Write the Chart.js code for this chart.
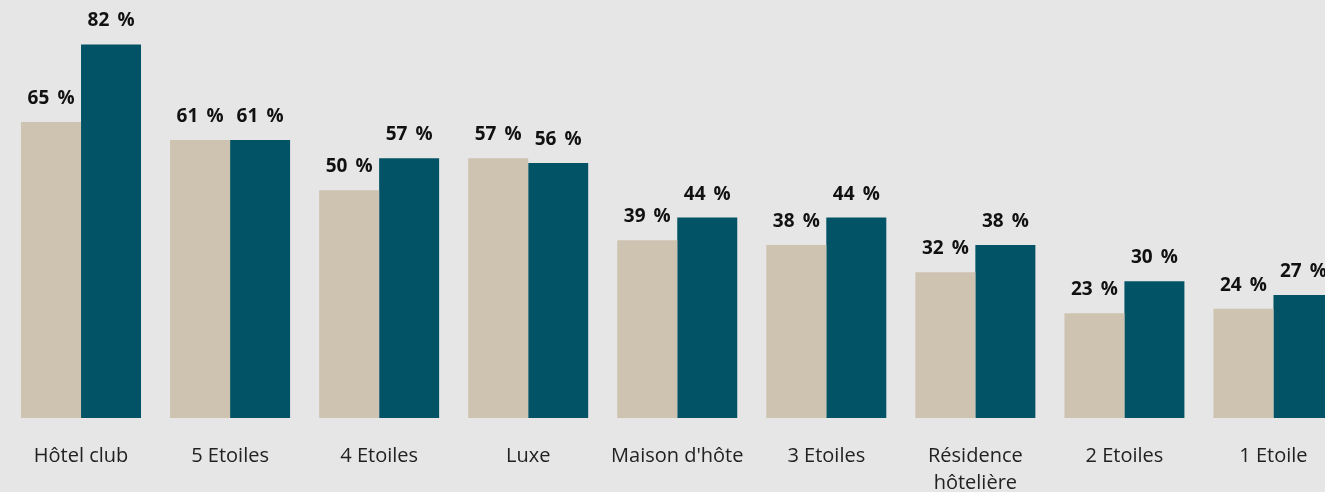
<!DOCTYPE html>
<html>
<head>
<meta charset="utf-8">
<script src="https://cdn.jsdelivr.net/npm/chart.js@4/dist/chart.umd.min.js"></script>
<style>
  html, body { margin: 0; padding: 0; background: #e6e6e6; overflow: hidden; }
  #wrap { position: relative; width: 1348px; height: 492px; }
</style>
</head>
<body>
<div id="wrap"><canvas id="chart"></canvas></div>
<script>
// Données
const categories = ['Hôtel club', '5 Etoiles', '4 Etoiles', 'Luxe', "Maison d'hôte", '3 Etoiles', ['Résidence', 'hôtelière'], '2 Etoiles', '1 Etoile'];
const serieBeige = [65, 61, 50, 57, 39, 38, 32, 23, 24];
const serieTeal = [82, 61, 57, 56, 44, 44, 38, 30, 27];

const beige = '#cdc3b0';
const teal = '#015365';

// Etiquettes au-dessus des barres
const valueLabels = {
  id: 'valueLabels',
  afterDatasetsDraw(chart) {
    const ctx = chart.ctx;
    ctx.save();
    ctx.font = 'bold 19px "Open Sans", sans-serif';
    ctx.fillStyle = '#111';
    ctx.textAlign = 'center';
    ctx.textBaseline = 'alphabetic';
    chart.data.datasets.forEach((ds, i) => {
      chart.getDatasetMeta(i).data.forEach((bar, j) => {
        ctx.fillText(ds.data[j] + '\u2009 %', bar.x, bar.y - 18);
      });
    });
    ctx.restore();
  }
};

new Chart(document.getElementById('chart'), {
  type: 'bar',
  data: {
    labels: categories,
    datasets: [
      { data: serieBeige, backgroundColor: beige, barPercentage: 1, categoryPercentage: 0.805 },
      { data: serieTeal, backgroundColor: teal, barPercentage: 1, categoryPercentage: 0.805 }
    ]
  },
  options: {
    responsive: true,
    maintainAspectRatio: false,
    animation: false,
    layout: { padding: { left: 6.5, top: 8, right: 0, bottom: 0 } },
    plugins: { legend: { display: false }, tooltip: { enabled: false } },
    scales: {
      x: {
        grid: { display: false, drawTicks: false },
        border: { display: false },
        ticks: {
          color: '#222',
          font: { family: '"Open Sans", sans-serif', size: 20, lineHeight: 1.35 },
          padding: 25,
          maxRotation: 0,
          autoSkip: false
        },
        afterFit(scale) { scale.height = 74; }
      },
      y: {
        display: false,
        min: 0,
        max: 90
      }
    }
  },
  plugins: [valueLabels]
});
</script>
</body>
</html>
